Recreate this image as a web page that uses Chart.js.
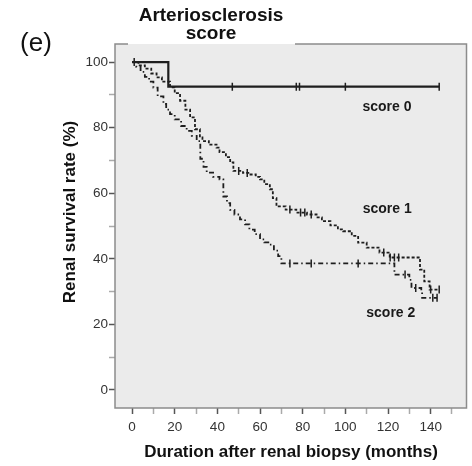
<!DOCTYPE html>
<html>
<head>
<meta charset="utf-8">
<script src="https://cdn.jsdelivr.net/npm/chart.js@4"></script>
<style>
  html, body { margin: 0; padding: 0; background: #fff; }
  #wrap { width: 472px; height: 466px; position: relative; }
</style>
</head>
<body>
<div id="wrap"><canvas id="kmChart"></canvas></div>
<script>
// Kaplan-Meier steps: months, survival %
const score0Months = [0, 17, 144];
const score0Rate = [100, 92.5, 92.5];

const score1Months = [0, 3, 6, 9, 11.5, 14, 17.8, 20, 22.5, 25, 27.2, 29.5, 31.8, 33, 36, 39.6, 41, 44, 46, 47.5, 52, 55, 58, 60, 62, 64.6, 66, 67.7, 72, 77, 82, 86.5, 89, 93, 96.5, 99, 103, 106, 110, 116, 120.8, 135, 137, 139.5, 144];
const score1Rate = [100, 99, 98, 96.5, 95.3, 94, 92.3, 90.5, 88.2, 85.5, 83.1, 79.5, 77, 75.9, 74.8, 73.9, 72.5, 71, 69.4, 66.8, 66.2, 65.7, 65, 64.2, 62.8, 61.2, 58.5, 56, 55, 54.1, 53.5, 52.6, 51.5, 50.2, 49, 48.4, 47, 44.9, 43.4, 41.9, 40.4, 36.7, 33.1, 30.6, 30.6];

const score2Months = [0, 2, 4, 6, 8, 10, 12, 14.7, 16, 17.8, 20, 23, 25.6, 28, 30.3, 32, 33.5, 35, 38, 41, 42.8, 44.5, 46, 48, 50.6, 53, 55, 57.5, 60, 62, 64.6, 66.5, 68.5, 70, 123, 130, 131, 135.6, 136, 143];
const score2Rate = [100, 98.5, 97, 95.5, 94, 92.2, 89.5, 87.2, 85.5, 84.1, 82.5, 80.5, 79, 77.5, 75.9, 70.5, 68, 66.3, 65, 64.2, 59, 57, 54.9, 53.5, 52, 50.5, 48.9, 47.5, 45.9, 45, 44.3, 42.5, 40.8, 38.6, 35.2, 33.6, 31.1, 30.1, 28.1, 28.1];

// censored cases (tick marks)
const score0CensorMonths = [1, 47, 77, 78.5, 100, 144];
const score0CensorRate = [100, 92.5, 92.5, 92.5, 92.5, 92.5];
const score1CensorMonths = [50, 54, 74, 79, 81, 84, 118, 121, 123, 125, 140, 144];
const score1CensorRate = [66.8, 66.2, 55, 54.1, 54.1, 53.5, 41.9, 40.4, 40.4, 40.4, 30.6, 30.6];
const score2CensorMonths = [74, 84, 106, 128, 133, 141, 143];
const score2CensorRate = [38.6, 38.6, 38.6, 35.2, 31.1, 28.1, 28.1];

const xTicks = [0, 10, 20, 30, 40, 50, 60, 70, 80, 90, 100, 110, 120, 130, 140, 150];
const yTicks = [0, 10, 20, 30, 40, 50, 60, 70, 80, 90, 100];

const curveLabels = ['score 0', 'score 1', 'score 2'];
const curveLabelAt = [[119.5, 86.2], [119.6, 55], [121.3, 23.5]];

const pts = (xs, ys) => xs.map((x, i) => ({ x, y: ys[i] }));
const ink = '#1e1e1e';
const fontFam = '"Liberation Sans", Arial, sans-serif';

const stepLine = (label, xs, ys, dash, width) => ({
    label, data: pts(xs, ys), stepped: 'before',
    borderColor: ink, borderWidth: width, borderDash: dash,
    pointRadius: 0, fill: false
});
const censor = (xs, ys) => ({
    type: 'scatter', data: pts(xs, ys),
    pointStyle: 'line', rotation: 90, radius: 4,
    borderColor: ink, borderWidth: 1.5, showLine: false
});

const frame = {
    id: 'frame',
    beforeDatasetsDraw(chart) {
        const { ctx, chartArea: a } = chart;
        ctx.save();
        ctx.fillStyle = '#ebebeb';
        ctx.fillRect(a.left, a.top, a.right - a.left, a.bottom - a.top);
        ctx.restore();
    },
    afterDraw(chart) {
        const { ctx, chartArea: a, scales } = chart;
        ctx.save();
        ctx.strokeStyle = '#8c8c8c';
        ctx.lineWidth = 1.5;
        ctx.beginPath();
        ctx.moveTo(128, a.top); ctx.lineTo(a.left, a.top);
        ctx.lineTo(a.left, a.bottom); ctx.lineTo(a.right, a.bottom);
        ctx.lineTo(a.right, a.top); ctx.lineTo(295, a.top);
        ctx.stroke();

        ctx.fillStyle = '#111';
        ctx.textAlign = 'center';
        ctx.textBaseline = 'middle';
        ctx.font = '26px ' + fontFam;
        ctx.fillText('(e)', 36, 44);

        ctx.textBaseline = 'alphabetic';
        ctx.font = 'bold 19px ' + fontFam;
        ctx.fillText('Arteriosclerosis', 211, 21);
        ctx.fillText('score', 211, 39);

        ctx.textBaseline = 'middle';
        ctx.font = 'bold 17px ' + fontFam;
        ctx.fillText('Duration after renal biopsy (months)', 291, 452);
        ctx.save();
        ctx.translate(70, 212);
        ctx.rotate(-Math.PI / 2);
        ctx.fillText('Renal survival rate (%)', 0, 0);
        ctx.restore();

        ctx.font = 'bold 14px ' + fontFam;
        ctx.fillStyle = '#1a1a1a';
        curveLabels.forEach((t, i) => {
            const [mx, r] = curveLabelAt[i];
            ctx.fillText(t, scales.x.getPixelForValue(mx), scales.y.getPixelForValue(r));
        });
        ctx.restore();
    }
};

new Chart(document.getElementById('kmChart'), {
    type: 'line',
    data: {
        datasets: [
            stepLine('score 0', score0Months, score0Rate, [], 2.2),
            stepLine('score 1', score1Months, score1Rate, [3, 2], 1.8),
            stepLine('score 2', score2Months, score2Rate, [5, 3, 1.5, 3], 1.8),
            censor(score0CensorMonths, score0CensorRate),
            censor(score1CensorMonths, score1CensorRate),
            censor(score2CensorMonths, score2CensorRate)
        ]
    },
    options: {
        responsive: true,
        maintainAspectRatio: false,
        animation: false,
        layout: { padding: { left: 0, right: 5, top: 44, bottom: 0 } },
        plugins: { legend: { display: false }, tooltip: { enabled: false } },
        scales: {
            x: {
                type: 'linear', min: -8, max: 156.8,
                afterBuildTicks: s => { s.ticks = xTicks.map(v => ({ value: v })); },
                afterFit: s => { s.height = 58; },
                grid: {
                    drawOnChartArea: false, drawTicks: true, tickLength: 6,
                    tickColor: c => (c.tick && c.tick.value % 20 === 0 ? '#555' : '#aaa'),
                    tickWidth: 1.5
                },
                border: { display: false },
                ticks: {
                    autoSkip: false, maxRotation: 0, padding: 5, color: '#333',
                    font: { family: fontFam, size: 13.5 },
                    callback: v => (v % 20 === 0 && v <= 140 ? String(v) : '')
                }
            },
            y: {
                type: 'linear', min: -5.5, max: 105.5,
                afterBuildTicks: s => { s.ticks = yTicks.map(v => ({ value: v })); },
                afterFit: s => { s.width = 115; },
                grid: {
                    drawOnChartArea: false, drawTicks: true, tickLength: 6,
                    tickColor: c => (c.tick && c.tick.value % 20 === 0 ? '#555' : '#aaa'),
                    tickWidth: 1.5
                },
                border: { display: false },
                ticks: {
                    autoSkip: false, padding: 1, color: '#333',
                    font: { family: fontFam, size: 13.5 },
                    callback: v => (v % 20 === 0 ? String(v) : '')
                }
            }
        }
    },
    plugins: [frame]
});
</script>
</body>
</html>
